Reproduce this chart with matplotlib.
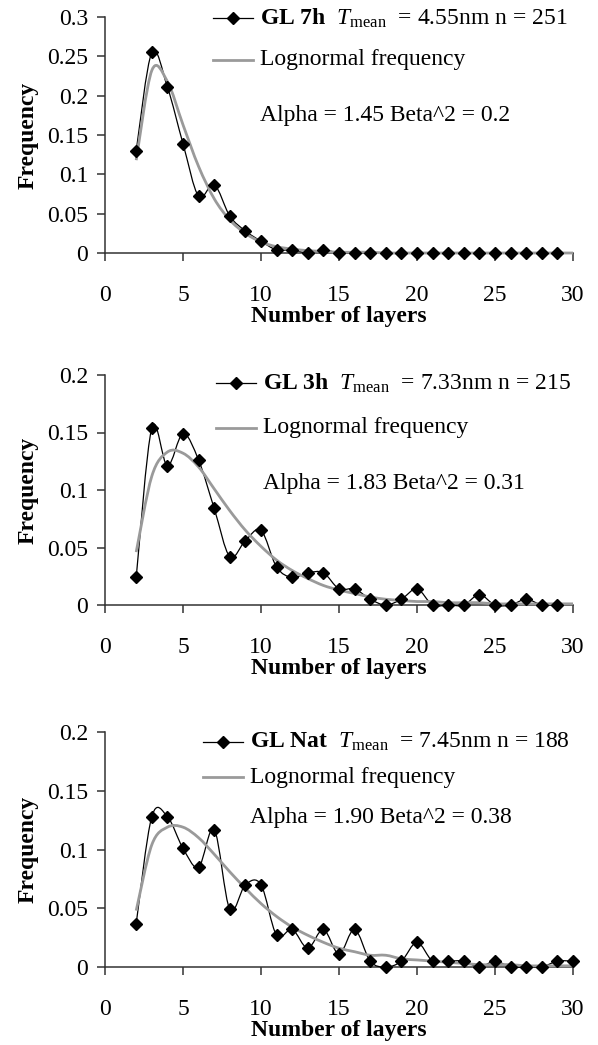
import matplotlib
matplotlib.use("Agg")
import matplotlib.pyplot as plt
import numpy as np
from matplotlib.path import Path
from matplotlib.patches import PathPatch
from matplotlib.lines import Line2D
from matplotlib.ticker import FuncFormatter

plt.rcParams['font.family'] = ['Liberation Serif', 'DejaVu Serif']
plt.rcParams['mathtext.fontset'] = 'custom'
plt.rcParams['mathtext.rm'] = 'Liberation Serif'
plt.rcParams['mathtext.it'] = 'Liberation Serif:italic'
plt.rcParams['mathtext.bf'] = 'Liberation Serif:bold'

# ---- data ----
layers_7h = list(range(2, 30))
freq_7h = [0.130, 0.255, 0.211, 0.139, 0.072, 0.087, 0.047, 0.028, 0.015, 0.004,
           0.004, 0.000, 0.004, 0.000, 0.000, 0.000, 0.000, 0.000, 0.000, 0.000,
           0.000, 0.000, 0.000, 0.000, 0.000, 0.000, 0.000, 0.000]
logn_x_7h = list(range(2, 31))
logn_7h = [0.118, 0.232, 0.218, 0.163, 0.110, 0.069, 0.042, 0.025, 0.014, 0.008,
           0.005, 0.003, 0.002, 0.001, 0.001, 0.001, 0.000, 0.000, 0.000, 0.000,
           0.000, 0.000, 0.000, 0.000, 0.000, 0.000, 0.000, 0.000, 0.000]

layers_3h = list(range(2, 30))
freq_3h = [0.024, 0.154, 0.121, 0.149, 0.126, 0.084, 0.042, 0.056, 0.065, 0.033,
           0.024, 0.028, 0.028, 0.014, 0.014, 0.005, 0.000, 0.005, 0.014, 0.000,
           0.000, 0.000, 0.009, 0.000, 0.000, 0.005, 0.000, 0.000]
logn_x_3h = list(range(2, 31))
logn_3h = [0.046, 0.112, 0.133, 0.132, 0.120, 0.101, 0.082, 0.065, 0.051, 0.039,
           0.030, 0.023, 0.017, 0.013, 0.010, 0.007, 0.005, 0.004, 0.003, 0.003,
           0.002, 0.002, 0.002, 0.001, 0.001, 0.001, 0.001, 0.001, 0.001]

layers_nat = list(range(2, 31))
freq_nat = [0.037, 0.128, 0.128, 0.101, 0.085, 0.117, 0.049, 0.070, 0.070, 0.027,
            0.032, 0.016, 0.032, 0.011, 0.032, 0.005, 0.000, 0.005, 0.021, 0.005,
            0.005, 0.005, 0.000, 0.005, 0.000, 0.000, 0.000, 0.005, 0.005]
logn_x_nat = list(range(2, 31))
logn_nat = [0.048, 0.104, 0.119, 0.119, 0.110, 0.096, 0.081, 0.067, 0.054, 0.043,
            0.034, 0.027, 0.021, 0.016, 0.013, 0.010, 0.010, 0.007, 0.006, 0.005,
            0.004, 0.003, 0.002, 0.002, 0.002, 0.001, 0.001, 0.001, 0.001]

names = ['GL 7h', 'GL 3h', 'GL Nat']
t_mean = ['4.55', '7.33', '7.45']
counts = [251, 215, 188]
alphas = ['1.45', '1.83', '1.90']
betas = ['0.2', '0.31', '0.38']
ymax = [0.3, 0.2, 0.2]

series = [(layers_7h, freq_7h, logn_x_7h, logn_7h),
          (layers_3h, freq_3h, logn_x_3h, logn_3h),
          (layers_nat, freq_nat, logn_x_nat, logn_nat)]

W, H = 598, 1045
# axes boxes in pixels: (left, top, right, bottom)
boxes = [(105, 17, 573, 253), (105, 375, 573, 605), (105, 732, 573, 967)]
# legend anchors (line start x, first entry y, second entry y, alpha y)
legpos = [(213, 18, 60, 115), (216, 383, 428, 484), (203, 742, 777, 818)]


def smooth_path(x, y):
    # Catmull-Rom style smoothing like a spreadsheet "smoothed line"
    x = np.asarray(x, float)
    y = np.asarray(y, float)
    px = np.concatenate([[x[0]], x, [x[-1]]])
    py = np.concatenate([[y[0]], y, [y[-1]]])
    verts = [(x[0], y[0])]
    codes = [Path.MOVETO]
    for i in range(1, len(px) - 2):
        c1 = (px[i] + (px[i + 1] - px[i - 1]) / 6, py[i] + (py[i + 1] - py[i - 1]) / 6)
        c2 = (px[i + 1] - (px[i + 2] - px[i]) / 6, py[i + 1] - (py[i + 2] - py[i]) / 6)
        verts += [c1, c2, (px[i + 1], py[i + 1])]
        codes += [Path.CURVE4] * 3
    return Path(verts, codes)


fig = plt.figure(figsize=(W / 100, H / 100), dpi=100)
fs = 17
ms = 6

for k in range(3):
    l, t, r, b = boxes[k]
    ax = fig.add_axes([l / W, 1 - b / H, (r - l) / W, (b - t) / H])
    xs, ys, lx, ly = series[k]

    ax.add_patch(PathPatch(smooth_path(xs, ys), fill=False, edgecolor='black',
                           lw=0.9, zorder=3, clip_on=False))
    ax.add_patch(PathPatch(smooth_path(lx, ly), fill=False, edgecolor='#9a9a9a',
                           lw=2.0, zorder=4, clip_on=False))
    ax.plot(xs, ys, linestyle='none', marker='D', ms=ms, color='black',
            zorder=5, clip_on=False)

    ax.set_xlim(0, 30)
    ax.set_ylim(0, ymax[k])
    ax.set_xticks(np.arange(0, 31, 5))
    ax.set_yticks(np.arange(0, ymax[k] + 0.001, 0.05))
    ax.yaxis.set_major_formatter(FuncFormatter(lambda v, p: '%g' % round(v, 2)))
    for s in ['top', 'right']:
        ax.spines[s].set_visible(False)
    for s in ['left', 'bottom']:
        ax.spines[s].set_linewidth(1.1)
        ax.spines[s].set_color('#333333')
    ax.tick_params(axis='both', direction='out', length=6, width=1.1,
                   color='#333333', labelsize=fs)
    ax.tick_params(axis='x', pad=17)
    ax.tick_params(axis='y', pad=6)
    ax.set_xlabel('Number of layers', fontsize=fs, fontweight='bold', labelpad=0)
    ax.set_ylabel('Frequency', fontsize=fs, fontweight='bold', labelpad=6)

    # legend drawn by hand in figure pixels
    lx0, y1, y2, y3 = legpos[k]
    tx = lx0 + 47
    fig.add_artist(Line2D([lx0 / W, (lx0 + 40) / W], [1 - y1 / H, 1 - y1 / H],
                          color='black', lw=0.9, transform=fig.transFigure))
    fig.add_artist(Line2D([(lx0 + 20) / W], [1 - y1 / H], marker='D', ms=ms,
                          color='black', transform=fig.transFigure))
    fig.add_artist(Line2D([lx0 / W, (lx0 + 40) / W], [1 - y2 / H, 1 - y2 / H],
                          color='#9a9a9a', lw=2.0, transform=fig.transFigure))
    label = (r'$\mathbf{%s}$  $T_{\mathrm{mean}}$  = %snm n = %d'
             % (names[k].replace(' ', r'\ '), t_mean[k], counts[k]))
    fig.text(tx / W, 1 - y1 / H, label, fontsize=fs, va='center', ha='left')
    fig.text(tx / W, 1 - y2 / H, 'Lognormal frequency', fontsize=fs,
             va='center', ha='left')
    fig.text(tx / W, 1 - y3 / H, 'Alpha = %s Beta^2 = %s' % (alphas[k], betas[k]),
             fontsize=fs, va='center', ha='left')

fig.savefig('out.png', dpi=100)
